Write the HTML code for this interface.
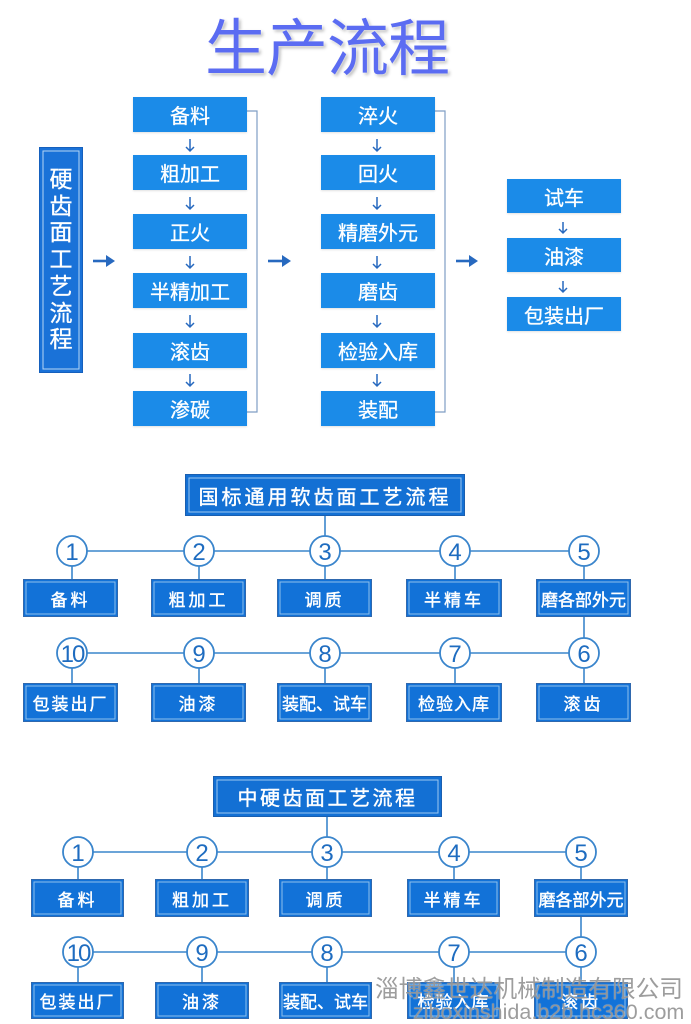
<!DOCTYPE html>
<html><head><meta charset="utf-8">
<style>
*{margin:0;padding:0;box-sizing:border-box}
html,body{width:691px;height:1024px;overflow:hidden;background:#fff}
body{position:relative;font-family:"Liberation Sans","Noto Sans CJK SC",sans-serif}
.abs{position:absolute}
.t{position:absolute;display:flex;align-items:center;justify-content:center;color:#fff;background:#1b8be8;font-size:20px;font-family:"Liberation Sans","Noto Sans CJK SC",sans-serif;box-shadow:0 1px 2px rgba(0,0,0,0.12);-webkit-text-stroke:0.3px #fff}
.b{position:absolute;display:flex;align-items:center;justify-content:center;color:#fff;background:#1272d8;font-size:17px;letter-spacing:2px;border:1px solid #2f68ae;box-shadow:inset 0 0 0 1.5px #1272d8,inset 0 0 0 2.5px #8fc0ec;font-family:"Liberation Sans","Noto Sans CJK SC",sans-serif;-webkit-text-stroke:0.4px #fff}
.h{position:absolute;display:flex;align-items:center;justify-content:center;color:#fff;background:#1370d4;font-size:20px;border:1.5px solid #1a5fb0;box-shadow:inset 0 0 0 2.5px #1370d4,inset 0 0 0 3.5px #9cc8f0;font-family:"Liberation Sans","Noto Sans CJK SC",sans-serif;-webkit-text-stroke:0.4px #fff}
</style></head><body>

<div class="abs" style="left:0;top:19px;width:654px;text-align:center;font-size:62px;line-height:62px;color:#5b6cf2;font-family:'Liberation Sans','Noto Sans CJK SC',sans-serif;text-shadow:0 0 2px #fff,2px 2px 3px rgba(0,0,0,0.28);letter-spacing:-1px">生产流程</div>

<svg class="abs" style="left:0;top:0" width="691" height="1024" viewBox="0 0 691 1024">
<!-- brackets -->
<g fill="none" stroke="#7f9ec4" stroke-width="1.2">
<path d="M247,111 H257 V412 H247"/>
<path d="M435,111 H445 V412 H435"/>
</g>
<!-- right arrows -->
<g stroke="#2769bf" stroke-width="2.6" fill="none">
<line x1="93" y1="261" x2="108" y2="261"/>
<line x1="268" y1="261" x2="284" y2="261"/>
<line x1="456" y1="261" x2="471" y2="261"/>
</g>
<g fill="#2769bf">
<path d="M106,255 L115,261 L106,267 z"/>
<path d="M282,255 L291,261 L282,267 z"/>
<path d="M469,255 L478,261 L469,267 z"/>
</g>
<!-- small down arrows -->
<g stroke="#2769bf" stroke-width="1.5" fill="none">
<path d="M190,139 V151 M186,147 L190,151 L194,147"/>
<path d="M190,197 V209 M186,205 L190,209 L194,205"/>
<path d="M190,256 V268 M186,264 L190,268 L194,264"/>
<path d="M190,315 V327 M186,323 L190,327 L194,323"/>
<path d="M190,374 V386 M186,382 L190,386 L194,382"/>
<path d="M377,139 V151 M373,147 L377,151 L381,147"/>
<path d="M377,197 V209 M373,205 L377,209 L381,205"/>
<path d="M377,256 V268 M373,264 L377,268 L381,264"/>
<path d="M377,315 V327 M373,323 L377,327 L381,323"/>
<path d="M377,374 V386 M373,382 L377,386 L381,382"/>
<path d="M563,222 V233 M559,229 L563,233 L567,229"/>
<path d="M563,281 V292 M559,288 L563,292 L567,288"/>
</g>

<!-- section 2 lines -->
<g stroke="#3a85cc" stroke-width="1.6" fill="none">
<line x1="325" y1="516" x2="325" y2="536"/>
<line x1="72" y1="551" x2="584" y2="551"/>
<line x1="72" y1="566" x2="72" y2="579"/>
<line x1="199" y1="566" x2="199" y2="579"/>
<line x1="325" y1="566" x2="325" y2="579"/>
<line x1="455" y1="566" x2="455" y2="579"/>
<line x1="584" y1="566" x2="584" y2="579"/>
<line x1="584" y1="617" x2="584" y2="638"/>
<line x1="72" y1="653" x2="584" y2="653"/>
<line x1="72" y1="668" x2="72" y2="683"/>
<line x1="199" y1="668" x2="199" y2="683"/>
<line x1="325" y1="668" x2="325" y2="683"/>
<line x1="455" y1="668" x2="455" y2="683"/>
<line x1="584" y1="668" x2="584" y2="683"/>
</g>
<g stroke="#3a85cc" stroke-width="1.8" fill="#fff">
<circle cx="72" cy="551" r="15"/><circle cx="199" cy="551" r="15"/><circle cx="325" cy="551" r="15"/><circle cx="455" cy="551" r="15"/><circle cx="584" cy="551" r="15"/>
<circle cx="72" cy="653" r="15"/><circle cx="199" cy="653" r="15"/><circle cx="325" cy="653" r="15"/><circle cx="455" cy="653" r="15"/><circle cx="584" cy="653" r="15"/>
</g>
<g fill="#1e6cc0" font-family="Liberation Sans, sans-serif" font-size="24" text-anchor="middle">
<text x="72" y="560">1</text><text x="199" y="560">2</text><text x="325" y="560">3</text><text x="455" y="560">4</text><text x="584" y="560">5</text>
<text x="72" y="662" letter-spacing="-2">10</text><text x="199" y="662">9</text><text x="325" y="662">8</text><text x="455" y="662">7</text><text x="584" y="662">6</text>
</g>

<!-- section 3 lines -->
<g stroke="#3a85cc" stroke-width="1.6" fill="none">
<line x1="327" y1="817" x2="327" y2="837"/>
<line x1="78" y1="852" x2="581" y2="852"/>
<line x1="78" y1="867" x2="78" y2="879"/>
<line x1="202" y1="867" x2="202" y2="879"/>
<line x1="327" y1="867" x2="327" y2="879"/>
<line x1="454" y1="867" x2="454" y2="879"/>
<line x1="581" y1="867" x2="581" y2="879"/>
<line x1="581" y1="917" x2="581" y2="937"/>
<line x1="78" y1="952" x2="581" y2="952"/>
<line x1="78" y1="967" x2="78" y2="982"/>
<line x1="202" y1="967" x2="202" y2="982"/>
<line x1="327" y1="967" x2="327" y2="982"/>
<line x1="454" y1="967" x2="454" y2="982"/>
<line x1="581" y1="967" x2="581" y2="982"/>
</g>
<g stroke="#3a85cc" stroke-width="1.8" fill="#fff">
<circle cx="78" cy="852" r="15"/><circle cx="202" cy="852" r="15"/><circle cx="327" cy="852" r="15"/><circle cx="454" cy="852" r="15"/><circle cx="581" cy="852" r="15"/>
<circle cx="78" cy="952" r="15"/><circle cx="202" cy="952" r="15"/><circle cx="327" cy="952" r="15"/><circle cx="454" cy="952" r="15"/><circle cx="581" cy="952" r="15"/>
</g>
<g fill="#1e6cc0" font-family="Liberation Sans, sans-serif" font-size="24" text-anchor="middle">
<text x="78" y="861">1</text><text x="202" y="861">2</text><text x="327" y="861">3</text><text x="454" y="861">4</text><text x="581" y="861">5</text>
<text x="78" y="961" letter-spacing="-2">10</text><text x="202" y="961">9</text><text x="327" y="961">8</text><text x="454" y="961">7</text><text x="581" y="961">6</text>
</g>
</svg>

<!-- left vertical box -->
<div class="abs" style="left:39px;top:147px;width:44px;height:226px;background:#1a72d8;border:1.5px solid #1560bd;box-shadow:inset 0 0 0 2.5px #1a72d8,inset 0 0 0 3.5px #b5d6f5"></div>
<div class="abs" style="left:39px;top:166px;width:44px;text-align:center;color:#fff;font-size:23px;line-height:26.7px;font-family:'Liberation Sans','Noto Sans CJK SC',sans-serif;-webkit-text-stroke:0.3px #fff">硬<br>齿<br>面<br>工<br>艺<br>流<br>程</div>

<!-- top column 1 -->
<div class="t" style="left:133px;top:97px;width:114px;height:35px">备料</div>
<div class="t" style="left:133px;top:155px;width:114px;height:35px">粗加工</div>
<div class="t" style="left:133px;top:214px;width:114px;height:35px">正火</div>
<div class="t" style="left:133px;top:273px;width:114px;height:35px">半精加工</div>
<div class="t" style="left:133px;top:333px;width:114px;height:35px">滚齿</div>
<div class="t" style="left:133px;top:391px;width:114px;height:35px">渗碳</div>
<!-- top column 2 -->
<div class="t" style="left:321px;top:97px;width:114px;height:35px">淬火</div>
<div class="t" style="left:321px;top:155px;width:114px;height:35px">回火</div>
<div class="t" style="left:321px;top:214px;width:114px;height:35px">精磨外元</div>
<div class="t" style="left:321px;top:273px;width:114px;height:35px">磨齿</div>
<div class="t" style="left:321px;top:333px;width:114px;height:35px">检验入库</div>
<div class="t" style="left:321px;top:391px;width:114px;height:35px">装配</div>
<!-- top column 3 -->
<div class="t" style="left:507px;top:179px;width:114px;height:34px">试车</div>
<div class="t" style="left:507px;top:238px;width:114px;height:34px">油漆</div>
<div class="t" style="left:507px;top:297px;width:114px;height:34px">包装出厂</div>

<!-- section 2 -->
<div class="h" style="left:185px;top:474px;width:280px;height:42px;letter-spacing:3px">国标通用软齿面工艺流程</div>
<div class="b" style="left:23px;top:579px;width:95px;height:38px;letter-spacing:3px">备料</div>
<div class="b" style="left:151px;top:579px;width:95px;height:38px;letter-spacing:3px">粗加工</div>
<div class="b" style="left:277px;top:579px;width:95px;height:38px;letter-spacing:3px">调质</div>
<div class="b" style="left:406px;top:579px;width:96px;height:38px;letter-spacing:3px">半精车</div>
<div class="b" style="left:536px;top:579px;width:95px;height:38px;letter-spacing:0">磨各部外元</div>
<div class="b" style="left:23px;top:683px;width:95px;height:39px;letter-spacing:2px">包装出厂</div>
<div class="b" style="left:151px;top:683px;width:95px;height:39px;letter-spacing:3px">油漆</div>
<div class="b" style="left:277px;top:683px;width:95px;height:39px;letter-spacing:0">装配、试车</div>
<div class="b" style="left:406px;top:683px;width:96px;height:39px;letter-spacing:1px">检验入库</div>
<div class="b" style="left:536px;top:683px;width:95px;height:39px;letter-spacing:3px">滚齿</div>

<!-- section 3 -->
<div class="h" style="left:213px;top:776px;width:229px;height:41px;letter-spacing:2.5px">中硬齿面工艺流程</div>
<div class="b" style="left:31px;top:879px;width:93px;height:38px;letter-spacing:3px">备料</div>
<div class="b" style="left:155px;top:879px;width:94px;height:38px;letter-spacing:3px">粗加工</div>
<div class="b" style="left:279px;top:879px;width:93px;height:38px;letter-spacing:3px">调质</div>
<div class="b" style="left:407px;top:879px;width:93px;height:38px;letter-spacing:3px">半精车</div>
<div class="b" style="left:534px;top:879px;width:94px;height:38px;letter-spacing:0">磨各部外元</div>
<div class="b" style="left:31px;top:982px;width:93px;height:37px;letter-spacing:2px">包装出厂</div>
<div class="b" style="left:155px;top:982px;width:94px;height:37px;letter-spacing:3px">油漆</div>
<div class="b" style="left:279px;top:982px;width:93px;height:37px;letter-spacing:0">装配、试车</div>
<div class="b" style="left:407px;top:982px;width:93px;height:37px;letter-spacing:1px">检验入库</div>
<div class="b" style="left:534px;top:982px;width:94px;height:37px;letter-spacing:3px">滚齿</div>

<!-- watermark -->
<div class="abs" style="left:375px;top:978px;font-size:23.7px;line-height:24px;white-space:nowrap;color:rgba(140,140,140,0.85);font-family:'Liberation Sans','Noto Sans CJK SC',sans-serif;text-shadow:0 0 1px rgba(255,255,255,0.7)">淄博鑫世达机械制造有限公司</div>
<div class="abs" style="left:413px;top:1000px;font-size:21.5px;line-height:24px;white-space:nowrap;color:rgba(140,140,140,0.85);font-family:'Liberation Sans',sans-serif;text-shadow:0 0 1px rgba(255,255,255,0.7)">ziboxinshida.b2b.hc360.com</div>

</body></html>
